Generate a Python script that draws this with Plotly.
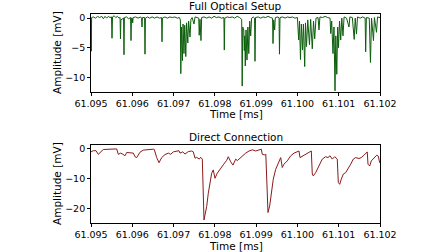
import plotly.graph_objects as go

# ---------------- data ----------------
opt_time = [
    61.095000, 61.095007, 61.095015, 61.095060, 61.095110, 61.095160, 61.095210, 61.095260,
    61.095300, 61.095340, 61.095380, 61.095420, 61.095460, 61.095497, 61.095509, 61.095521,
    61.095560, 61.095600, 61.095640, 61.095680, 61.095704, 61.095714, 61.095724, 61.095789,
    61.095799, 61.095809, 61.095860, 61.095910, 61.095959, 61.095969, 61.095980, 61.096000,
    61.096010, 61.096020, 61.096080, 61.096140, 61.096200, 61.096225, 61.096235, 61.096245,
    61.096298, 61.096308, 61.096318, 61.096370, 61.096420, 61.096480, 61.096540, 61.096600,
    61.096660, 61.096710, 61.096720, 61.096730, 61.096790, 61.096850, 61.096910, 61.096970,
    61.097030, 61.097090, 61.097140, 61.097165, 61.097175, 61.097190, 61.097214, 61.097230,
    61.097252, 61.097270, 61.097296, 61.097315, 61.097345, 61.097365, 61.097398, 61.097420,
    61.097450, 61.097495, 61.097520, 61.097570, 61.097610, 61.097621, 61.097640, 61.097664,
    61.097680, 61.097740, 61.097800, 61.097860, 61.097920, 61.097980, 61.098040, 61.098100,
    61.098160, 61.098219, 61.098229, 61.098240, 61.098300, 61.098360, 61.098420, 61.098480,
    61.098540, 61.098600, 61.098650, 61.098662, 61.098675, 61.098700, 61.098713, 61.098725,
    61.098737, 61.098755, 61.098778, 61.098800, 61.098822, 61.098845, 61.098868, 61.098890,
    61.098930, 61.098962, 61.098972, 61.098985, 61.099050, 61.099110, 61.099170, 61.099230,
    61.099290, 61.099350, 61.099398, 61.099408, 61.099425, 61.099449, 61.099465, 61.099530,
    61.099555, 61.099565, 61.099578, 61.099640, 61.099700, 61.099760, 61.099820, 61.099880,
    61.099940, 61.100000, 61.100030, 61.100050, 61.100074, 61.100095, 61.100123, 61.100145,
    61.100176, 61.100195, 61.100219, 61.100250, 61.100292, 61.100320, 61.100360, 61.100390,
    61.100418, 61.100450, 61.100500, 61.100522, 61.100545, 61.100610, 61.100670, 61.100730,
    61.100790, 61.100806, 61.100830, 61.100861, 61.100885, 61.100910, 61.100930, 61.100953,
    61.100975, 61.100994, 61.101020, 61.101048, 61.101075, 61.101103, 61.101130, 61.101190,
    61.101249, 61.101270, 61.101330, 61.101375, 61.101400, 61.101430, 61.101455, 61.101520,
    61.101580, 61.101640, 61.101653, 61.101670, 61.101740, 61.101769, 61.101795, 61.101842,
    61.101865, 61.101915, 61.101940, 61.102000,
]
opt_amp = [
    -0.2, -5.6, 0.1, 0.2, 0.0, 0.3, 0.1, 0.3,
    -0.1, 0.3, 0.0, 0.3, 0.1, 0.2, -3.4, 0.2,
    0.4, 0.1, 0.3, 0.0, 0.1, -3.5, -0.3, 0.0,
    -6.2, 0.1, 0.2, -0.1, 0.1, -3.8, 0.0, 0.0,
    -0.8, 0.1, 0.2, 0.0, 0.2, 0.0, -1.5, 0.1,
    0.1, -6.1, 0.0, 0.2, 0.0, 0.2, 0.0, 0.2,
    0.0, 0.1, -4.0, 0.0, 0.2, 0.0, 0.2, 0.1,
    0.2, 0.0, 0.1, -0.3, -9.4, -1.5, -7.2, -1.0,
    -6.0, -1.2, -6.5, -0.8, -4.2, -0.5, -3.2, -0.2,
    0.1, -1.0, 0.2, 0.1, 0.0, -2.9, -0.2, -3.8,
    0.1, 0.2, 0.0, 0.2, 0.0, 0.3, 0.1, 0.2,
    0.0, 0.1, -5.4, 0.0, 0.2, 0.1, 0.2, 0.0,
    0.3, 0.1, -0.2, -11.5, -1.5, -2.0, -5.5, -3.0,
    -8.1, -2.0, -7.1, -1.5, -6.0, -0.5, -3.0, 0.0,
    0.2, 0.0, -7.3, 0.1, 0.2, 0.0, 0.2, 0.1,
    0.3, 0.1, 0.0, -4.3, -0.3, -2.0, 0.1, 0.2,
    0.0, -6.1, 0.1, 0.2, 0.0, 0.2, 0.1, 0.2,
    0.0, 0.1, -3.7, -0.5, -7.0, -1.0, -5.4, -1.0,
    -8.2, -0.8, -4.8, -0.3, -4.5, -0.2, -5.2, -0.5,
    -3.5, 0.0, 0.1, -2.0, 0.2, 0.1, 0.3, 0.1,
    0.0, -2.6, -0.5, -6.0, -1.5, -12.3, -3.0, -9.5,
    -1.5, -5.0, -0.5, -3.7, 0.0, -3.0, 0.2, 0.0,
    -1.5, 0.2, 0.1, -3.6, 0.0, -2.7, 0.2, 0.0,
    0.2, 0.0, -5.7, 0.1, 0.0, -7.5, 0.0, -3.8,
    0.1, -2.4, 0.2, 0.1,
]

dir_time = [
    61.095000, 61.095056, 61.095121, 61.095177, 61.095298, 61.095460, 61.095622, 61.095661,
    61.095719, 61.095775, 61.095823, 61.095865, 61.096025, 61.096066, 61.096107, 61.096187,
    61.096267, 61.096509, 61.096533, 61.096591, 61.096647, 61.096712, 61.096792, 61.096872,
    61.096930, 61.096993, 61.097076, 61.097131, 61.097156, 61.097221, 61.097277, 61.097357,
    61.097439, 61.097478, 61.097519, 61.097560, 61.097623, 61.097657, 61.097696, 61.097713,
    61.097737, 61.097761, 61.097802, 61.097841, 61.097882, 61.097923, 61.097962, 61.098003,
    61.098059, 61.098124, 61.098204, 61.098287, 61.098325, 61.098384, 61.098439, 61.098505,
    61.098543, 61.098585, 61.098664, 61.098747, 61.098827, 61.098907, 61.098989, 61.099069,
    61.099125, 61.099149, 61.099207, 61.099234, 61.099256, 61.099287, 61.099328, 61.099367,
    61.099415, 61.099473, 61.099553, 61.099595, 61.099633, 61.099674, 61.099754, 61.099837,
    61.099917, 61.099997, 61.100038, 61.100062, 61.100118, 61.100200, 61.100280, 61.100336,
    61.100360, 61.100384, 61.100442, 61.100522, 61.100602, 61.100684, 61.100740, 61.100789,
    61.100844, 61.100902, 61.100965, 61.100990, 61.101024, 61.101062, 61.101111, 61.101169,
    61.101225, 61.101290, 61.101353, 61.101411, 61.101491, 61.101547, 61.101612, 61.101692,
    61.101709, 61.101750, 61.101789, 61.101854, 61.101920, 61.101959, 61.101992, 61.102000,
]
dir_amp = [
    -1.0, -0.6, -0.6, -1.8, -0.2, 0.0, 0.0, -1.8,
    -1.4, -1.8, -2.3, -1.2, -1.4, -2.6, -2.9, -1.1,
    -0.4, -0.1, -0.2, -2.9, -4.6, -2.9, -1.9, -1.4,
    -1.8, -1.0, -0.9, -0.6, -1.4, -1.0, -1.7, -0.9,
    -0.7, -1.0, -3.1, -2.8, -3.4, -2.8, -3.4, -12.0,
    -23.7, -22.0, -19.2, -14.8, -11.4, -8.1, -7.0, -9.8,
    -8.1, -7.0, -5.3, -3.8, -2.6, -4.3, -5.4, -3.4,
    -3.9, -3.4, -2.3, -1.4, -0.7, -0.3, -0.7, -0.3,
    -0.1, -1.8, -2.0, -1.8, -12.3, -21.2, -19.0, -14.6,
    -10.1, -6.8, -4.0, -2.9, -6.2, -5.1, -4.0, -2.3,
    -1.4, -1.0, -0.7, -2.9, -2.4, -1.8, -1.2, -0.7,
    -8.4, -9.0, -7.9, -5.7, -3.4, -2.6, -2.9, -2.3,
    -3.4, -2.6, -3.4, -11.2, -11.8, -10.1, -8.4, -7.9,
    -6.8, -5.1, -3.4, -2.9, -3.2, -2.9, -2.1, -1.0,
    -5.1, -5.7, -4.0, -2.9, -2.1, -2.4, -4.6, -4.4,
]

x_ticks = [61.095, 61.096, 61.097, 61.098, 61.099, 61.100, 61.101, 61.102]
top_yticks = [-10, -5, 0]
bot_yticks = [-20, -10, 0]
top_title = "Full Optical Setup"
bot_title = "Direct Connection"
x_label = "Time [ms]"
y_label = "Amplitude [mV]"

# ---------------- figure ----------------
W, H = 448, 252
FONT = "DejaVu Sans"

def py(p):
    return 1 - p / H

def px(p):
    return p / W

fig = go.Figure()
fig.add_trace(go.Scatter(x=opt_time, y=opt_amp, mode="lines",
                         line=dict(color="#0b5d0b", width=1), xaxis="x", yaxis="y",
                         showlegend=False, hoverinfo="skip"))
fig.add_trace(go.Scatter(x=dir_time, y=dir_amp, mode="lines",
                         line=dict(color="#8b1a1a", width=1), xaxis="x2", yaxis="y2",
                         showlegend=False, hoverinfo="skip"))

xdom = [px(91), px(380)]
axis_common = dict(showgrid=False, zeroline=False, showline=True, mirror=True,
                   automargin=False,
                   linecolor="black", linewidth=0.8, ticks="outside", ticklen=3,
                   tickwidth=0.8, tickcolor="black",
                   tickfont=dict(family=FONT, size=9.5, color="black"))

fig.update_layout(
    template="none",
    width=W, height=H, margin=dict(l=0, r=0, t=0, b=0, pad=0),
    paper_bgcolor="white", plot_bgcolor="white",
    xaxis=dict(domain=xdom, anchor="y", range=[61.095, 61.102], tickvals=x_ticks,
               ticktext=[f"{v:.3f}" for v in x_ticks], **axis_common),
    yaxis=dict(domain=[py(92), py(14)], anchor="x", range=[-12.5, 0.7],
               tickvals=top_yticks, **axis_common),
    xaxis2=dict(domain=xdom, anchor="y2", range=[61.095, 61.102], tickvals=x_ticks,
                ticktext=[f"{v:.3f}" for v in x_ticks], **axis_common),
    yaxis2=dict(domain=[py(223), py(145)], anchor="x2", range=[-24.7, 1.3],
                tickvals=bot_yticks, **axis_common),
)

cx = (91 + 380) / 2
txt = dict(family=FONT, size=10.5, color="black")
ann = [
    dict(text=top_title, x=px(cx), y=py(6), xanchor="center", yanchor="middle"),
    dict(text=bot_title, x=px(cx), y=py(137), xanchor="center", yanchor="middle"),
    dict(text=x_label, x=px(cx), y=py(114.5), xanchor="center", yanchor="middle"),
    dict(text=x_label, x=px(cx), y=py(245.5), xanchor="center", yanchor="middle"),
    dict(text=y_label, x=px(57), y=py(53), xanchor="center", yanchor="middle", textangle=-90),
    dict(text=y_label, x=px(57), y=py(184), xanchor="center", yanchor="middle", textangle=-90),
]
for a in ann:
    fig.add_annotation(xref="paper", yref="paper", showarrow=False, font=txt, **a)

fig.write_html("out.html", config={"displayModeBar": False},
               post_script="document.body.style.margin='0';")
